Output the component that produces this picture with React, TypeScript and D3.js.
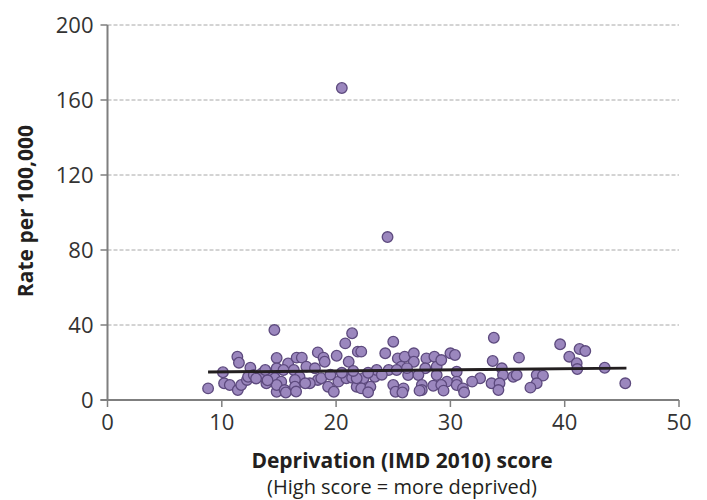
import React from "react";
import * as d3 from "d3";

const scoreX: number[] = [
  14.6, 11.36, 11.5, 10.1, 8.8, 10.2, 10.7, 11.4, 11.7, 12.2, 12.5, 12.3, 12.8, 13.5, 13.9, 14.2, 14.8, 14.8, 14.65, 14.8,
  21.4, 20.8, 18.4, 18.9, 19.0, 20.05, 21.1, 21.9, 15.8, 16.55, 17.0, 15.4, 16.3, 17.4, 18.15, 16.8, 16.4, 15.2, 18.4, 17.7,
  18.7, 14.8, 15.5, 16.4, 17.3, 19.3, 19.8, 20.2, 20.9, 21.4, 21.8,
  25.0, 22.2, 24.3, 25.4, 26.0, 26.8, 26.8, 25.7, 27.9, 28.6, 27.8, 28.8, 22.4, 23.4, 23.55, 24.6, 25.3, 26.3, 27.2, 21.8,
  22.2, 23.0, 22.8, 25.0, 25.2, 25.9, 27.5, 27.5, 28.5, 28.8,
  33.8, 30.0, 30.4, 29.2, 33.7, 30.55, 34.5, 34.6, 35.5, 32.6, 31.9, 30.55, 29.7, 29.2, 30.55, 31.1, 31.2, 33.6, 34.3, 34.2,
  39.6, 36.0, 40.4, 41.3, 41.8, 41.05, 41.1, 35.8, 37.55, 38.1, 37.55, 37.0,
  43.5, 45.3,
  20.5, 24.5,
  15.6, 16.5, 25.8, 27.3, 29.4,
  20.5, 21.5, 19.5, 22.8, 24.0, 26.2, 13.0, 13.8, 14.0,
];

const rateY: number[] = [
  37.3, 23.1, 19.9, 14.8, 6.2, 8.9, 8.0, 5.3, 8.0, 10.7, 17.2, 12.4, 13.3, 14.2, 8.9, 14.2, 22.4, 16.9, 11.6, 4.4,
  35.6, 30.2, 25.4, 22.6, 20.4, 23.6, 20.4, 25.8, 19.5, 22.6, 22.6, 16.0, 16.0, 17.8, 16.9, 12.4, 10.7, 9.8, 10.7, 8.9,
  11.6, 8.0, 5.3, 7.1, 8.9, 7.1, 4.4, 9.8, 11.6, 11.9, 7.1,
  31.1, 25.8, 24.9, 22.2, 23.1, 24.9, 20.4, 17.8, 22.2, 23.1, 16.9, 17.8, 11.6, 12.4, 16.0, 16.0, 16.0, 13.3, 13.3, 11.6,
  6.2, 7.1, 4.1, 8.0, 4.4, 6.2, 8.0, 5.3, 7.6, 13.3,
  33.2, 24.9, 24.0, 21.3, 20.8, 15.1, 16.9, 13.3, 12.4, 11.6, 9.8, 9.8, 9.8, 8.0, 8.0, 6.2, 4.1, 8.9, 8.9, 5.3,
  29.7, 22.6, 23.1, 27.2, 26.1, 19.6, 16.5, 13.3, 13.3, 13.0, 8.9, 6.6,
  17.2, 8.9,
  166.4, 86.9,
  4.0, 4.5, 4.0, 5.0, 5.0,
  14.5, 15.5, 13.5, 14.5, 13.5, 17.0, 11.5, 16.0, 10.5,
];

const fitX: number[] = [8.8, 45.4];
const fitY: number[] = [14.9, 17.0];

const xTicks: number[] = [0, 10, 20, 30, 40, 50];
const yTicks: number[] = [0, 40, 80, 120, 160, 200];

const xTitle = "Deprivation (IMD 2010) score";
const xSubtitle = "(High score = more deprived)";
const yTitle = "Rate per 100,000";

export default function App() {
  const W = 707;
  const H = 500;
  const left = 107.5;
  const right = 679;
  const top = 25;
  const bottom = 400;
  const x = d3.scaleLinear().domain([0, 50]).range([left, right]);
  const y = d3.scaleLinear().domain([0, 200]).range([bottom, top]);
  const font = "'Open Sans', 'Noto Sans', sans-serif";
  const line = d3
    .line<number>()
    .x((_, i) => x(fitX[i]))
    .y((d) => y(d));

  return (
    <svg
      width={W}
      height={H}
      style={{ position: "absolute", left: 0, top: 0, background: "#fff" }}
      fontFamily={font}
    >
      <rect width={W} height={H} fill="#fff" />
      {yTicks
        .filter((t) => t > 0)
        .map((t) => (
          <line
            key={"g" + t}
            x1={left}
            x2={right}
            y1={y(t)}
            y2={y(t)}
            stroke="#a8a8a8"
            strokeWidth={1}
            strokeDasharray="4,2"
          />
        ))}
      <line x1={left} x2={left} y1={top} y2={bottom} stroke="#7f7f7f" strokeWidth={2} />
      <line x1={left - 7} x2={right} y1={bottom} y2={bottom} stroke="#7f7f7f" strokeWidth={2} />
      {yTicks.map((t) => (
        <g key={"yt" + t}>
          <line x1={left - 7} x2={left} y1={y(t)} y2={y(t)} stroke="#7f7f7f" strokeWidth={1.5} />
          <text
            x={left - 14}
            y={y(t)}
            dy="0.36em"
            textAnchor="end"
            fontSize={22}
            fill="#333"
          >
            {t}
          </text>
        </g>
      ))}
      {xTicks.map((t) => (
        <g key={"xt" + t}>
          <line x1={x(t)} x2={x(t)} y1={bottom} y2={bottom + 7} stroke="#7f7f7f" strokeWidth={1.5} />
          <text x={x(t)} y={bottom + 30} textAnchor="middle" fontSize={22} fill="#333">
            {t}
          </text>
        </g>
      ))}
      {scoreX.map((sx, i) => (
        <circle
          key={"p" + i}
          cx={x(sx)}
          cy={y(rateY[i])}
          r={5.3}
          fill="#9b87be"
          stroke="#5d4a7e"
          strokeWidth={1.3}
        />
      ))}
      <path d={line(fitY) || ""} stroke="#231f20" strokeWidth={3} fill="none" />
      <text x={402} y={468} textAnchor="middle" fontSize={21} fontWeight="bold" fill="#231f20">
        {xTitle}
      </text>
      <text x={402} y={494} textAnchor="middle" fontSize={20} fill="#231f20">
        {xSubtitle}
      </text>
      <text
        transform="translate(33,211) rotate(-90)"
        textAnchor="middle"
        fontSize={21}
        fontWeight="bold"
        fill="#231f20"
      >
        {yTitle}
      </text>
    </svg>
  );
}
